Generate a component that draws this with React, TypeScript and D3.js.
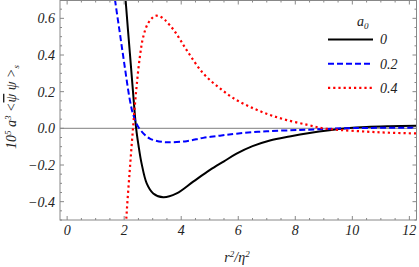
import React from 'react';
import * as d3 from 'd3';

// a0 = 0
const blackX = [1.98, 2.05, 2.2, 2.32, 2.42, 2.5, 2.61, 2.79, 3.02, 3.37, 3.84, 4.42, 5.01, 5.5, 5.94, 6.5, 7.11, 7.8, 8.5, 9.2, 9.8, 10.5, 11.3, 12.3];
const blackY = [0.86, 0.7, 0.41, 0.18, 0.0, -0.09, -0.191, -0.3, -0.355, -0.376, -0.355, -0.291, -0.227, -0.18, -0.138, -0.097, -0.066, -0.044, -0.025, -0.01, 0.0, 0.007, 0.011, 0.014];

// a0 = 0.2
const blueX = [1.6, 1.68, 1.85, 2.02, 2.2, 2.32, 2.49, 2.73, 2.9, 3.08, 3.49, 4.19, 4.77, 5.36, 5.94, 7.0, 8.16, 9.0, 9.6, 10.5, 12.3];
const blueY = [0.8, 0.7, 0.518, 0.336, 0.154, 0.073, 0.009, -0.036, -0.056, -0.066, -0.076, -0.07, -0.052, -0.04, -0.029, -0.016, -0.009, -0.004, 0.0, 0.002, 0.004];

// a0 = 0.4
const redX = [2.0, 2.08, 2.2, 2.32, 2.43, 2.55, 2.67, 2.84, 3.08, 3.25, 3.43, 3.78, 4.19, 4.77, 5.36, 5.94, 6.53, 7.11, 7.7, 8.4, 8.98, 9.57, 10.5, 11.3, 12.3];
const redY = [-0.72, -0.48, -0.22, 0.02, 0.22, 0.39, 0.5, 0.573, 0.613, 0.61, 0.591, 0.527, 0.427, 0.3, 0.218, 0.154, 0.109, 0.073, 0.045, 0.02, 0.0, -0.009, -0.018, -0.024, -0.028];

const xTicks = [0, 2, 4, 6, 8, 10, 12];
const yTicks = [-0.4, -0.2, 0.0, 0.2, 0.4, 0.6];
const legendTitle = 'a';
const legendLabels = ['0', '0.2', '0.4'];

const W = 419;
const H = 267;
const left = 60;
const right = 416.5;
const top = 0.5;
const bottom = 220;
const font = '"Liberation Serif", "Times New Roman", serif';

export default function App() {
  const x = d3.scaleLinear().domain([-0.25, 12.25]).range([left, right]);
  const y = d3.scaleLinear().domain([-0.5, 0.7]).range([bottom, 0]);

  const line = d3
    .line<[number, number]>()
    .x((d) => x(d[0]))
    .y((d) => y(d[1]))
    .curve(d3.curveCatmullRom.alpha(0.5));

  const series = [
    { xs: blackX, ys: blackY, color: '#000', dash: undefined as string | undefined, w: 2 },
    { xs: blueX, ys: blueY, color: '#0000ff', dash: '6,3', w: 2 },
    { xs: redX, ys: redY, color: '#ff0000', dash: '2.2,3', w: 2.2 },
  ];

  const xMinor = d3.range(0, 12.01, 0.5).filter((v) => !xTicks.includes(v));
  const yMinor = d3.range(-0.5, 0.701, 0.05).filter((v) => !yTicks.some((t) => Math.abs(t - v) < 1e-6));
  const fmt = (v: number) => v.toFixed(1).replace('-', '\u2212');
  const frameColor = '#888';

  return (
    <svg width={W} height={H} style={{ position: 'absolute', left: 0, top: 0 }} fontFamily={font}>
      <defs>
        <clipPath id="plot">
          <rect x={left} y={top} width={right - left} height={bottom - top} />
        </clipPath>
      </defs>
      <rect width={W} height={H} fill="#fff" />

      {/* zero line */}
      <line x1={left} x2={right} y1={y(0)} y2={y(0)} stroke="#999" strokeWidth={1.4} />

      <g clipPath="url(#plot)">
        {series.map((s, i) => (
          <path
            key={i}
            d={line(s.xs.map((v, j) => [v, s.ys[j]] as [number, number])) || ''}
            fill="none"
            stroke={s.color}
            strokeWidth={s.w}
            strokeDasharray={s.dash}
          />
        ))}
      </g>

      {/* frame */}
      <rect x={left} y={top} width={right - left} height={bottom - top} fill="none" stroke={frameColor} strokeWidth={1} />

      {/* x ticks */}
      {xTicks.map((t) => (
        <g key={'xt' + t} stroke={frameColor}>
          <line x1={x(t)} x2={x(t)} y1={bottom} y2={bottom - 4} />
          <line x1={x(t)} x2={x(t)} y1={top} y2={top + 4} />
        </g>
      ))}
      {xMinor.map((t) => (
        <g key={'xm' + t} stroke={frameColor}>
          <line x1={x(t)} x2={x(t)} y1={bottom} y2={bottom - 2} />
          <line x1={x(t)} x2={x(t)} y1={top} y2={top + 2} />
        </g>
      ))}
      {xTicks.map((t) => (
        <text key={'xl' + t} x={x(t)} y={235} textAnchor="middle" fontSize={14} fontStyle="italic" fill="#222">
          {t}
        </text>
      ))}

      {/* y ticks */}
      {yTicks.map((t) => (
        <g key={'yt' + t} stroke={frameColor}>
          <line x1={left} x2={left + 4} y1={y(t)} y2={y(t)} />
          <line x1={right} x2={right - 4} y1={y(t)} y2={y(t)} />
        </g>
      ))}
      {yMinor.map((t) => (
        <g key={'ym' + t} stroke={frameColor}>
          <line x1={left} x2={left + 2} y1={y(t)} y2={y(t)} />
          <line x1={right} x2={right - 2} y1={y(t)} y2={y(t)} />
        </g>
      ))}
      {yTicks.map((t) => (
        <text key={'yl' + t} x={55} y={y(t)} dy="0.35em" textAnchor="end" fontSize={14} fontStyle="italic" fill="#222">
          {fmt(t)}
        </text>
      ))}

      {/* axis titles */}
      <text x={237} y={262} textAnchor="middle" fontSize={14} fontStyle="italic" fill="#222">
        r<tspan dy={-5} fontSize={9}>2</tspan>
        <tspan dy={5}>/η</tspan>
        <tspan dy={-5} fontSize={9}>2</tspan>
      </text>
      <text transform="translate(16,107) rotate(-90)" textAnchor="middle" fontSize={14} fontStyle="italic" fill="#222">
        10<tspan dy={-5} fontSize={9}>5</tspan>
        <tspan dy={5}> a</tspan>
        <tspan dy={-5} fontSize={9}>3</tspan>
        <tspan dy={5}> &lt;</tspan>
        <tspan style={{ textDecoration: 'overline' }}>ψ</tspan>
        <tspan> ψ &gt;</tspan>
        <tspan dy={3} fontSize={9}>s</tspan>
      </text>

      {/* legend */}
      <text x={357} y={26} fontSize={14} fontStyle="italic" fill="#222">
        {legendTitle}
        <tspan dy={3} fontSize={9}>0</tspan>
      </text>
      {series.map((s, i) => {
        const ly = 39.5 + i * 24.2;
        return (
          <g key={'lg' + i}>
            <line x1={328} x2={373} y1={ly} y2={ly} stroke={s.color} strokeWidth={s.w} strokeDasharray={s.dash} />
            <text x={380} y={ly} dy="0.35em" fontSize={14} fontStyle="italic" fill="#222">
              {legendLabels[i]}
            </text>
          </g>
        );
      })}
    </svg>
  );
}
